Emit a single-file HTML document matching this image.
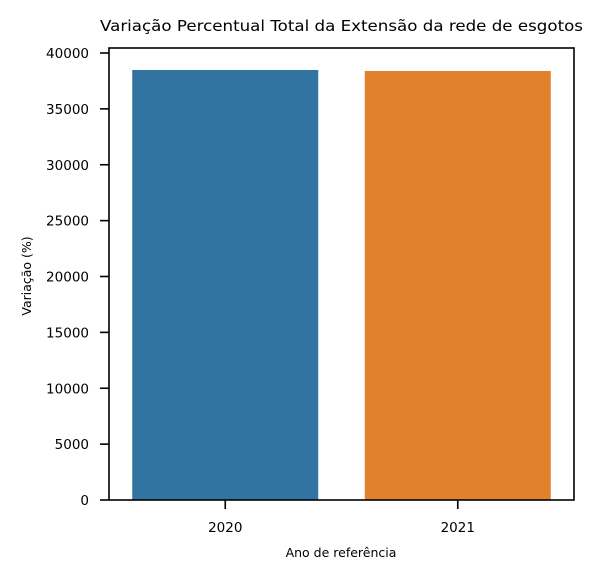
<!DOCTYPE html>
<html><head><meta charset="utf-8"><style>
body{margin:0;background:#fff}
svg text{font-family:"DejaVu Sans","Liberation Sans",sans-serif;fill:#000}
</style></head><body>
<svg id="chart" width="602" height="580" viewBox="0 0 602 580">
<text x="100" y="31" font-size="15.5" textLength="483" lengthAdjust="spacingAndGlyphs">Variação Percentual Total da Extensão da rede de esgotos</text>
<g id="bars"></g>
<g id="yticks"></g>
<g id="xticks"></g>
<rect x="109" y="48" width="465" height="452" fill="none" stroke="#000" stroke-width="1.6"/>
<text x="341" y="557" font-size="12.5" text-anchor="middle">Ano de referência</text>
<text transform="translate(31,276) rotate(-90)" font-size="12.5" text-anchor="middle">Variação (%)</text>
</svg>
<script>
const categories=["2020","2021"];
const values=[38480,38390];
const colors=["#3274a1","#e1812c"];
const yTicks=[0,5000,10000,15000,20000,25000,30000,35000,40000];
const ns="http://www.w3.org/2000/svg";
const L=109,R=574,B=500;
const y=v=>B-v*(447/40000);
const step=(R-L)/categories.length;
const xc=i=>L+step*(i+0.5);
function mk(t,a){const e=document.createElementNS(ns,t);for(const k in a)e.setAttribute(k,a[k]);return e;}
const gb=document.getElementById('bars'),gy=document.getElementById('yticks'),gx=document.getElementById('xticks');
categories.forEach((c,i)=>{
  const w=step*0.8;
  const r=mk('rect',{x:xc(i)-w/2,y:y(values[i]),width:w,height:B-y(values[i]),fill:colors[i]});
  
  
  gb.appendChild(r);
  const t=mk('line',{x1:xc(i),x2:xc(i),y1:B,y2:B+9,stroke:'#000','stroke-width':1.6});
  
  
  gx.appendChild(t);
  const l=mk('text',{x:xc(i),y:532,'font-size':13.5,'text-anchor':'middle'});
  l.textContent=c;
  
  
  gx.appendChild(l);
});
yTicks.forEach(v=>{
  const t=mk('line',{x1:L-9,x2:L,y1:y(v),y2:y(v),stroke:'#000','stroke-width':1.6});
  
  
  gy.appendChild(t);
  const l=mk('text',{x:89,y:y(v)+5,'font-size':13.5,'text-anchor':'end'});
  l.textContent=v;
  
  
  gy.appendChild(l);
});
</script>
</body></html>
